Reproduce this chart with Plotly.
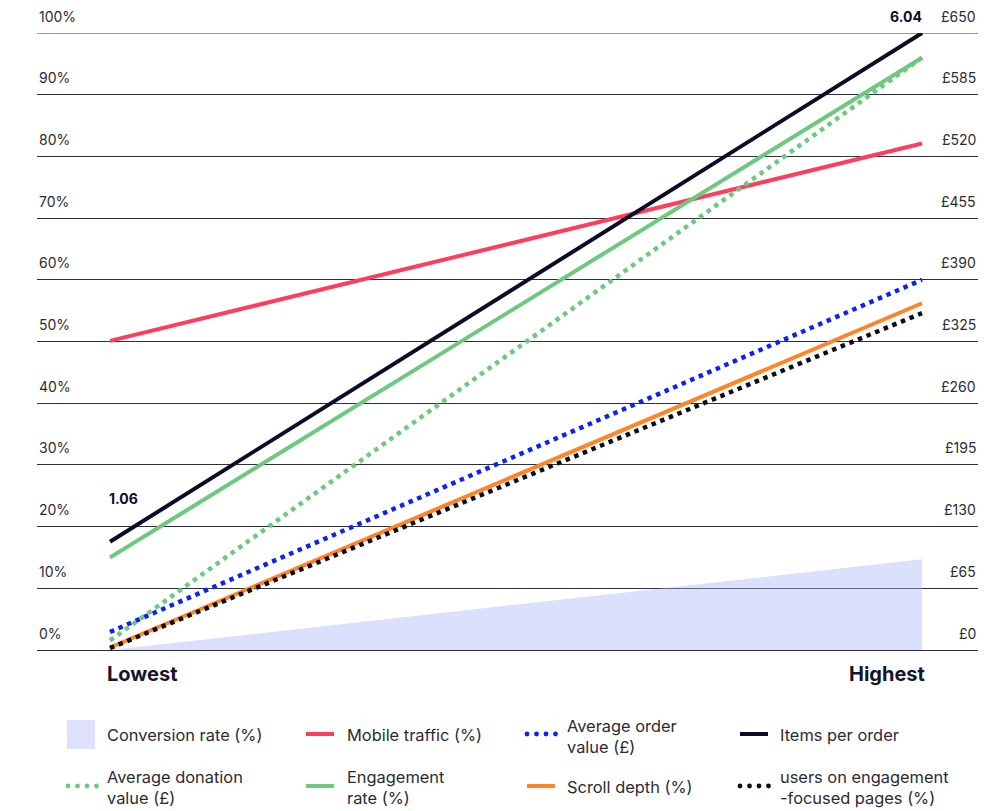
import plotly.graph_objects as go

# Category axis and series values
positions = ["Lowest", "Highest"]
conversion_rate = [0.0, 14.7]          # %
mobile_traffic = [50.1, 82.1]          # %
avg_order_value = [19, 390]            # £
items_per_order = [1.06, 6.04]         # items
avg_donation_value = [10, 624]         # £
engagement_rate = [15.0, 96.0]         # %
scroll_depth = [0.4, 56.2]             # %
users_engagement_pages = [0.3, 54.6]   # %

pct_ticks = list(range(0, 101, 10))
pct_labels = [f"{v}%" for v in pct_ticks]
gbp_ticks = list(range(0, 651, 65))
gbp_labels = [f"£{v}" for v in gbp_ticks]

FONT = "Inter, Roboto, sans-serif"
TEXT = "#2b2b33"
GRID = "#30303c"

C_AREA = "rgba(170,180,248,0.42)"
C_AREA_KEY = "#dde1fc"
C_RED = "#ff3d5c"
C_BLUE = "#0a22f5"
C_NAVY = "#0c0c26"
C_GREEN = "#6cc97d"
C_ORANGE = "#ff8529"
C_BLACK = "#0b0b1c"

W, H = 989, 811
ML, MR, MT, MB = 37, 11, 33, 161
PW, PH = W - ML - MR, H - MT - MB

DOT = "4.5px,4.8px"

fig = go.Figure()

fig.add_trace(go.Scatter(x=positions, y=conversion_rate, mode="lines", fill="tozeroy",
                         fillcolor=C_AREA, line=dict(width=0), name="Conversion rate (%)"))
fig.add_trace(go.Scatter(x=positions, y=mobile_traffic, mode="lines",
                         line=dict(color=C_RED, width=4), name="Mobile traffic (%)"))
fig.add_trace(go.Scatter(x=positions, y=avg_order_value, yaxis="y2", mode="lines",
                         line=dict(color=C_BLUE, width=4.5, dash=DOT), name="Average order value (£)"))
fig.add_trace(go.Scatter(x=positions, y=avg_donation_value, yaxis="y2", mode="lines",
                         line=dict(color=C_GREEN, width=4.5, dash=DOT), name="Average donation value (£)"))
fig.add_trace(go.Scatter(x=positions, y=engagement_rate, mode="lines",
                         line=dict(color=C_GREEN, width=4), name="Engagement rate (%)"))
fig.add_trace(go.Scatter(x=positions, y=items_per_order, yaxis="y3", mode="lines",
                         line=dict(color=C_NAVY, width=4), name="Items per order"))
fig.add_trace(go.Scatter(x=positions, y=scroll_depth, mode="lines",
                         line=dict(color=C_ORANGE, width=4), name="Scroll depth (%)"))
fig.add_trace(go.Scatter(x=positions, y=users_engagement_pages, mode="lines",
                         line=dict(color=C_BLACK, width=4.5, dash=DOT),
                         name="users on engagement -focused pages (%)"))
fig.update_traces(showlegend=False, cliponaxis=False, hoverinfo="skip")

annotations = []
shapes = []

# Top gridline (the axis skips the one on the range edge)
shapes.append(dict(type="line", xref="paper", yref="y", x0=0, x1=1, y0=pct_ticks[-1],
                   y1=pct_ticks[-1], line=dict(color=GRID, width=1), layer="below"))

# Axis labels sit just above their gridlines
for v, t in zip(pct_ticks, pct_labels):
    annotations.append(dict(x=0, xref="paper", y=v, yref="y", text=t, showarrow=False,
                            xanchor="left", yanchor="middle", yshift=17,
                            font=dict(family=FONT, size=14, color=TEXT)))
for v, t in zip(gbp_ticks, gbp_labels):
    annotations.append(dict(x=1, xref="paper", y=v, yref="y2", text=t, showarrow=False,
                            xanchor="right", yanchor="middle", yshift=17,
                            font=dict(family=FONT, size=14, color=TEXT)))

# Category labels under the ends of the lines
annotations.append(dict(x=positions[0], y=0, yref="paper", text=positions[0], showarrow=False,
                        xanchor="left", yanchor="middle", xshift=-5, yshift=-24,
                        font=dict(family=FONT, size=20, color="#14142a", weight="bold")))
annotations.append(dict(x=positions[1], y=0, yref="paper", text=positions[1], showarrow=False,
                        xanchor="right", yanchor="middle", xshift=5, yshift=-24,
                        font=dict(family=FONT, size=20, color="#14142a", weight="bold")))

# Value labels for items per order
annotations.append(dict(x=positions[0], y=items_per_order[0], yref="y3",
                        text=f"{items_per_order[0]:.2f}", showarrow=False,
                        xanchor="left", yanchor="middle", xshift=-3, yshift=43,
                        font=dict(family=FONT, size=14, color=C_NAVY, weight="bold")))
annotations.append(dict(x=positions[1], y=items_per_order[1], yref="y3",
                        text=f"{items_per_order[1]:.2f}", showarrow=False,
                        xanchor="right", yanchor="middle", xshift=2, yshift=17,
                        font=dict(family=FONT, size=14, color=C_NAVY, weight="bold")))


# Legend built from pixel positions
def px(x):
    return (x - ML) / PW


def py(y):
    return (MT + PH - y) / PH


def key_line(x0, x1, y, color):
    shapes.append(dict(type="line", xref="paper", yref="paper", x0=px(x0), x1=px(x1),
                       y0=py(y), y1=py(y), line=dict(color=color, width=4)))


def key_dots(x0, y, color):
    for i in range(4):
        cx = x0 + i * 9.5
        shapes.append(dict(type="circle", xref="paper", yref="paper",
                           x0=px(cx - 2.4), x1=px(cx + 2.4), y0=py(y + 2.4), y1=py(y - 2.4),
                           fillcolor=color, line=dict(width=0)))


def key_text(x, y, text):
    annotations.append(dict(x=px(x), y=py(y), xref="paper", yref="paper", text=text,
                            showarrow=False, xanchor="left", yanchor="middle", align="left",
                            font=dict(family=FONT, size=16.4, color=TEXT)))


shapes.append(dict(type="rect", xref="paper", yref="paper", x0=px(67), x1=px(95),
                   y0=py(749), y1=py(720), fillcolor=C_AREA_KEY, line=dict(width=0)))
key_text(105, 735, "Conversion rate (%)")
key_line(306, 334, 734, C_RED)
key_text(345, 735, "Mobile traffic (%)")
key_dots(527, 734, C_BLUE)
key_text(565, 736, "Average order<br>value (£)")
key_line(740, 768, 734, C_NAVY)
key_text(778, 735, "Items per order")

key_dots(68, 786, C_GREEN)
key_text(105, 787, "Average donation<br>value (£)")
key_line(306, 334, 786, C_GREEN)
key_text(345, 787, "Engagement<br>rate (%)")
key_line(527, 555, 786, C_ORANGE)
key_text(565, 787, "Scroll depth (%)")
key_dots(740, 786, C_BLACK)
key_text(778, 787, "users on engagement<br>-focused pages (%)")

x_lo = -(110 - ML) / 812
x_hi = 1 + (978 - 922) / 812

fig.update_layout(
    width=W, height=H,
    margin=dict(l=ML, r=MR, t=MT, b=MB),
    paper_bgcolor="white", plot_bgcolor="white",
    font=dict(family=FONT, color=TEXT),
    showlegend=False,
    xaxis=dict(type="category", range=[x_lo, x_hi], showgrid=False, zeroline=False,
               showline=True, linecolor=GRID, linewidth=1, showticklabels=False,
               fixedrange=True),
    yaxis=dict(range=[0, 100], tickvals=pct_ticks, showticklabels=False, showgrid=True,
               gridcolor=GRID, gridwidth=1, zeroline=False, showline=False, fixedrange=True),
    yaxis2=dict(range=[0, 650], overlaying="y", visible=False, fixedrange=True),
    yaxis3=dict(range=[0, 6.04], overlaying="y", visible=False, fixedrange=True),
    annotations=annotations,
    shapes=shapes,
)

fig.write_html("out.html")
